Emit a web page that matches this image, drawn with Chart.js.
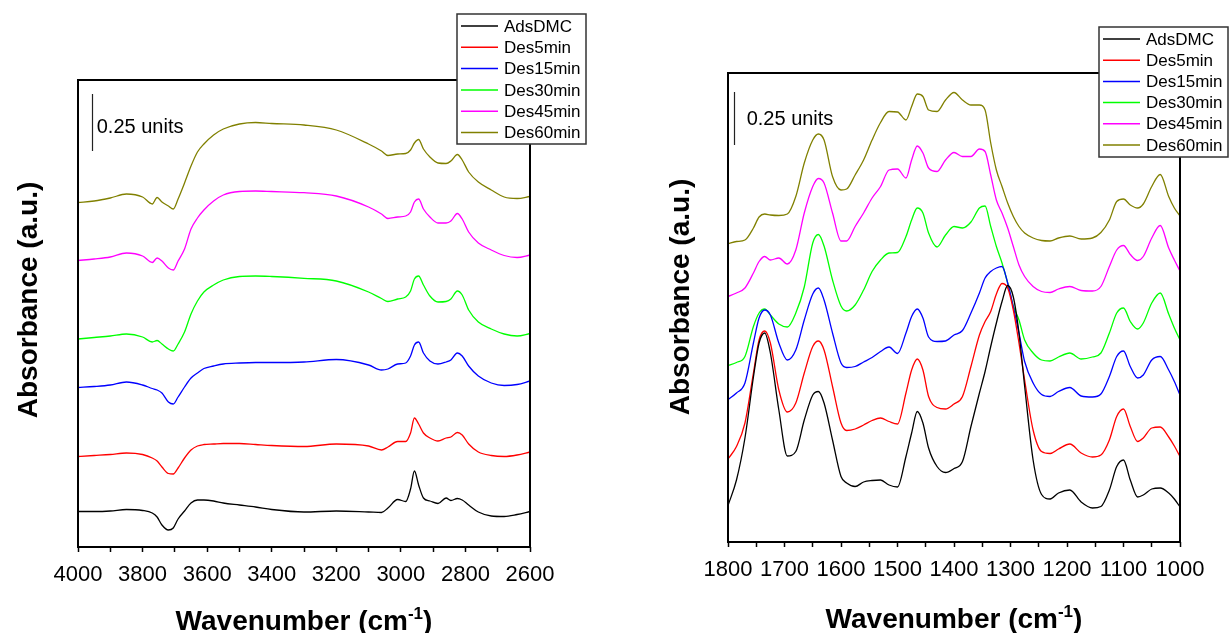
<!DOCTYPE html>
<html>
<head>
<meta charset="utf-8">
<script src="https://cdn.jsdelivr.net/npm/chart.js@4.4.1/dist/chart.umd.min.js"></script>
<style>
    html, body { margin: 0; padding: 0; background: #fff; }
    #wrap { position: relative; width: 1230px; height: 633px; overflow: hidden; }
    .panel { position: absolute; top: 0; width: 615px; height: 633px; }
    #left { left: 0; }
    #right { left: 615px; }
</style>
</head>
<body>
<div id="wrap">
    <div class="panel" id="left"><canvas id="chartHigh" width="615" height="633"></canvas></div>
    <div class="panel" id="right"><canvas id="chartLow" width="615" height="633"></canvas></div>
</div>
<script>
// ==========================================
// DRIFTS spectra - DMC adsorption / desorption
// ==========================================

const seriesNames = ['AdsDMC', 'Des5min', 'Des15min', 'Des30min', 'Des45min', 'Des60min'];
const seriesColors = ['#000000', '#ff0000', '#0000ff', '#00ff00', '#ff00ff', '#808000'];

// tick labels
const highTickLabels = [4000, 3800, 3600, 3400, 3200, 3000, 2800, 2600];
const lowTickLabels = [1800, 1700, 1600, 1500, 1400, 1300, 1200, 1100, 1000];

// ---- 4000-2600 cm-1 region (absorbance, arbitrary units, curves stacked) ----
const wnHigh = [4000, 3950, 3900, 3850, 3800, 3770, 3755, 3740, 3720, 3705,
    3690, 3670, 3650, 3630, 3610, 3580, 3550, 3500, 3450, 3400,
    3300, 3200, 3100, 3060, 3040, 3010, 2985, 2970, 2958, 2945,
    2930, 2910, 2885, 2860, 2845, 2825, 2810, 2790, 2760, 2720,
    2680, 2640, 2600];
const adsHigh = [35.5, 35.5, 36, 37.5, 36.5, 34, 30, 22, 17, 19,
    28, 36, 44, 47, 47, 46, 44, 42, 40, 37.5,
    35, 36, 35, 34.5, 39, 47.5, 45.5, 58, 76, 62,
    49, 46, 43.5, 49, 46.5, 48.5, 47, 42, 35, 31,
    30.5, 32.5, 35.5];
const des5High = [90.5, 91.5, 92.5, 94, 92.5, 89, 86, 80, 73.5, 73,
    79, 89, 97, 101, 102.5, 103, 103.5, 103.5, 102.5, 101.5,
    100.5, 103, 101, 97, 100, 105.5, 105.5, 114, 129, 123,
    114, 109, 106, 109, 110, 114.5, 112, 103, 95, 91.5,
    90.5, 92, 95];
const des15High = [159.5, 160.5, 162, 165, 162, 158.5, 157, 154, 145, 143,
    150, 160, 169, 174, 178.5, 181, 183, 184, 184.5, 184.5,
    185, 187.5, 182, 177, 178, 183, 184, 191, 202, 205,
    194, 186, 183, 185, 187, 194, 191, 181, 171, 164,
    161.5, 162.5, 166];
const des30High = [208, 209.5, 211, 213, 210, 205, 206.5, 203, 198, 196,
    203, 215, 233, 246, 255, 262, 267, 270.5, 271, 270.5,
    268.7, 266, 255, 248.5, 245.5, 248, 250, 256, 268, 271,
    262, 251, 245, 245.5, 248, 256, 252, 237, 225, 218,
    213, 211, 213.5];
const des45High = [286.5, 288, 290, 294, 291, 284.5, 289, 286, 279, 277,
    286, 298, 318, 329, 337, 346, 352, 355.5, 356, 355.5,
    354.3, 351, 340, 333, 328.5, 330, 331, 335, 345, 348,
    338, 330, 324, 324, 326, 333.5, 328, 315, 304, 297,
    291.5, 289.5, 292];
const des60High = [344.5, 346, 349, 353, 350, 343, 349.5, 345, 341, 338,
    348, 364, 381, 395, 403, 412, 418, 423, 424.5, 423.5,
    422, 417, 403, 396, 391.5, 393, 393.5, 397, 404, 407.5,
    398, 390, 384, 383.5, 386, 392.5, 387, 375, 365, 357,
    350, 348.5, 350.5];

// ---- 1800-1000 cm-1 region ----
const wnLow = [1800, 1785, 1770, 1755, 1745, 1735, 1725, 1710, 1695, 1680,
    1665, 1650, 1640, 1630, 1615, 1600, 1590, 1575, 1560, 1545,
    1530, 1515, 1500, 1485, 1475, 1465, 1455, 1445, 1430, 1415,
    1400, 1385, 1370, 1355, 1345, 1335, 1325, 1315, 1305, 1295,
    1285, 1275, 1260, 1245, 1230, 1215, 1195, 1175, 1155, 1140,
    1125, 1112, 1100, 1088, 1075, 1065, 1050, 1035, 1020, 1010,
    1000];
const adsLow = [36.5, 62, 104, 165, 199, 209, 189, 132, 86, 90.5,
    122, 147, 150.5, 139, 102, 65.5, 59, 55.5, 60, 61.5,
    62, 57, 55, 85.5, 109, 130.5, 119, 94, 75.5, 69.5,
    73.5, 80.5, 115.5, 149, 170.5, 195.5, 219, 240.5, 256.5, 245,
    209, 156, 82, 47.5, 43, 49, 52, 40, 34, 35.5,
    52, 75.5, 82, 62, 45, 47, 53, 54, 49, 43,
    35];
const des5Low = [83, 95.5, 119, 169, 202, 211, 199, 152, 130, 139,
    169, 195.5, 201, 192, 155.5, 119, 111.5, 113, 117, 121.5,
    124, 120.5, 118, 149, 172, 183, 172, 145.5, 134.5, 133,
    138, 145.5, 175.5, 207, 220.5, 230.5, 248, 258.5, 254, 232,
    199, 162, 112, 90.5, 88.5, 93, 98, 89, 85, 87,
    102, 125.5, 133, 115.5, 100.5, 104, 114, 115, 105, 96,
    85.5];
const des15Low = [142.5, 149, 159, 199, 224, 232, 227, 199, 182, 192,
    222, 248, 254, 242, 209, 179, 174.5, 175.5, 180, 184.5,
    190.5, 195, 188.5, 209, 225.5, 233, 224, 205, 200.5, 201,
    207, 211.5, 229, 249, 264, 270.5, 274, 275.5, 259, 235,
    209, 180.5, 159, 147.5, 145.5, 150.5, 154.5, 146, 145, 148,
    165.5, 185.5, 191, 175.5, 164, 167, 182, 185.5, 172, 160.5,
    147];
const des30Low = [176.5, 179.5, 185.5, 215.5, 229, 233, 227, 218, 215, 229,
    255, 299, 307.5, 296, 262, 236, 231, 237, 252, 270.5,
    282, 289, 289.5, 305.5, 322, 334, 329, 309, 295, 307,
    315.5, 314, 320, 334, 336, 315.5, 295.5, 279, 259, 236,
    222, 202, 189, 182, 181, 185, 189, 183, 185, 189,
    209, 229, 234, 220.5, 213, 219, 239, 249, 228, 214,
    202];
const des45Low = [245.5, 249, 254, 269, 280.5, 285.5, 282, 284, 278, 292,
    329, 355.5, 363.5, 359, 329, 301, 301, 315.5, 329, 344,
    355.5, 372, 373, 364, 382, 396, 389, 374, 370.5, 382,
    389.5, 385.5, 385.5, 393, 390.5, 367, 342, 329, 314, 295.5,
    277, 265.5, 255.5, 250.5, 249.5, 253, 255.5, 251.5, 251, 255.5,
    275.5, 292, 296.5, 287.5, 281.5, 285.5, 304, 316.5, 294, 282,
    271];
const des60Low = [298.5, 300.5, 302, 314, 325, 328, 327, 326.5, 328, 345.5,
    379, 402, 408, 402, 365.5, 352, 353, 367, 382, 402,
    419.5, 430.5, 430, 422, 435.5, 448, 445.5, 432, 430.5, 442,
    449.5, 442, 437, 437, 432, 399, 372, 355.5, 339, 325.5,
    315.5, 309, 304, 301.5, 301, 304, 306, 303, 304, 309.5,
    322, 340.5, 343, 337, 334, 338, 355.5, 367.5, 345.5, 334,
    326];

const FONT = '"Liberation Sans", Arial, sans-serif';

function makeDatasets(wn, seriesList) {
    return seriesList.map((vals, i) => ({
        label: seriesNames[i],
        data: wn.map((w, j) => ({ x: w, y: vals[j] })),
        borderColor: seriesColors[i],
        backgroundColor: seriesColors[i],
        borderWidth: 1.3,
        pointRadius: 0,
        fill: false,
        cubicInterpolationMode: 'monotone'
    }));
}

// frame, scale bar, axis titles and legend box
const decorPlugin = {
    id: 'decor',
    afterDraw(chart, args, opts) {
        const ctx = chart.ctx;
        const a = chart.chartArea;
        const xs = chart.scales.x;
        const ys = chart.scales.y;
        ctx.save();

        // frame
        ctx.strokeStyle = '#000';
        ctx.lineWidth = 2;
        ctx.strokeRect(a.left, a.top, a.right - a.left, a.bottom - a.top);

        // 0.25 units bar
        const bar = opts.bar;
        const bx = Math.round(xs.getPixelForValue(bar.wn)) + 0.5;
        ctx.strokeStyle = '#222';
        ctx.lineWidth = 1.2;
        ctx.beginPath();
        ctx.moveTo(bx, ys.getPixelForValue(bar.from));
        ctx.lineTo(bx, ys.getPixelForValue(bar.from + bar.size));
        ctx.stroke();
        ctx.fillStyle = '#000';
        ctx.font = '20px ' + FONT;
        ctx.textAlign = 'left';
        ctx.textBaseline = 'alphabetic';
        ctx.fillText(bar.label, xs.getPixelForValue(bar.textWn), ys.getPixelForValue(bar.textAt));

        // y title
        ctx.save();
        ctx.translate(opts.yTitle.x, opts.yTitle.y);
        ctx.rotate(-Math.PI / 2);
        ctx.font = 'bold 28px ' + FONT;
        ctx.textAlign = 'center';
        ctx.fillText('Absorbance (a.u.)', 0, 0);
        ctx.restore();

        // x title with superscript
        const main = 'Wavenumber (cm';
        const sup = '-1';
        const close = ')';
        ctx.font = 'bold 28px ' + FONT;
        const w1 = ctx.measureText(main).width;
        const w3 = ctx.measureText(close).width;
        ctx.font = 'bold 17px ' + FONT;
        const w2 = ctx.measureText(sup).width;
        let tx = opts.xTitle.x - (w1 + w2 + w3) / 2;
        const ty = opts.xTitle.y;
        ctx.textAlign = 'left';
        ctx.font = 'bold 28px ' + FONT;
        ctx.fillText(main, tx, ty);
        tx += w1;
        ctx.font = 'bold 17px ' + FONT;
        ctx.fillText(sup, tx, ty - 11);
        tx += w2;
        ctx.font = 'bold 28px ' + FONT;
        ctx.fillText(close, tx, ty);

        // legend
        const lg = opts.legend;
        ctx.fillStyle = '#fff';
        ctx.fillRect(lg.x, lg.y, lg.w, lg.h);
        ctx.strokeStyle = '#333';
        ctx.lineWidth = 1.5;
        ctx.strokeRect(lg.x, lg.y, lg.w, lg.h);
        ctx.font = '17px ' + FONT;
        ctx.textBaseline = 'middle';
        chart.data.datasets.forEach((ds, i) => {
            const ry = lg.y + 12 + i * lg.step;
            ctx.strokeStyle = ds.borderColor;
            ctx.lineWidth = 1.5;
            ctx.beginPath();
            ctx.moveTo(lg.x + 4, ry);
            ctx.lineTo(lg.x + 41, ry);
            ctx.stroke();
            ctx.fillStyle = '#000';
            ctx.fillText(ds.label, lg.x + 47, ry + 1);
        });

        ctx.restore();
    }
};

function buildChart(canvasId, wn, seriesList, cfg) {
    const ctx = document.getElementById(canvasId);
    return new Chart(ctx, {
        type: 'line',
        data: { datasets: makeDatasets(wn, seriesList) },
        options: {
            responsive: false,
            animation: false,
            devicePixelRatio: 1,
            events: [],
            layout: { padding: cfg.padding },
            plugins: {
                legend: { display: false },
                tooltip: { enabled: false },
                decor: cfg.decor
            },
            scales: {
                x: {
                    type: 'linear',
                    reverse: true,
                    min: cfg.min,
                    max: cfg.max,
                    afterFit: (scale) => { scale.height = 50; },
                    border: { display: false },
                    grid: {
                        drawOnChartArea: false,
                        drawTicks: true,
                        tickLength: 5,
                        tickWidth: 1.5,
                        tickColor: '#000'
                    },
                    ticks: {
                        stepSize: cfg.step,
                        autoSkip: false,
                        maxRotation: 0,
                        padding: 10,
                        color: '#000',
                        font: { family: FONT, size: 22 },
                        callback: (v) => cfg.labels.includes(v) ? String(v) : ''
                    }
                },
                y: {
                    display: false,
                    min: 0,
                    max: cfg.ymax
                }
            }
        },
        plugins: [decorPlugin]
    });
}

buildChart('chartHigh', wnHigh, [adsHigh, des5High, des15High, des30High, des45High, des60High], {
    min: 2600, max: 4000, step: 100, labels: highTickLabels, ymax: 467,
    padding: { left: 78, right: 85, top: 80, bottom: 36 },
    decor: {
        bar: { wn: 3957, from: 396, size: 57, label: '0.25 units', textWn: 3942, textAt: 414 },
        yTitle: { x: 37, y: 300 },
        xTitle: { x: 304, y: 630 },
        legend: { x: 457, y: 14, w: 129, h: 130, step: 21.3 }
    }
});

buildChart('chartLow', wnLow, [adsLow, des5Low, des15Low, des30Low, des45Low, des60Low], {
    min: 1000, max: 1800, step: 50, labels: lowTickLabels, ymax: 469,
    padding: { left: 113, right: 50, top: 73, bottom: 41 },
    decor: {
        bar: { wn: 1789, from: 397, size: 53, label: '0.25 units', textWn: 1767, textAt: 417 },
        yTitle: { x: 74, y: 297 },
        xTitle: { x: 339, y: 628 },
        legend: { x: 484, y: 27, w: 129, h: 130, step: 21.2 }
    }
});
</script>
</body>
</html>
